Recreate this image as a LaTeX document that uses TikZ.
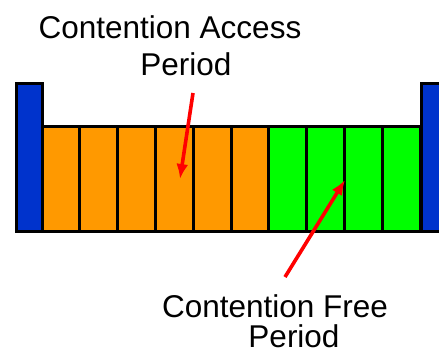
\documentclass[tikz,border=0pt]{standalone}
\usepackage{fontspec}
\setmainfont{Liberation Sans}
\usetikzlibrary{arrows.meta}

\definecolor{orangecap}{RGB}{255,153,0}
\definecolor{vertcfp}{RGB}{0,255,0}
\definecolor{bleubalise}{RGB}{0,51,204}

\begin{document}
\begin{tikzpicture}[x=1pt, y=-1pt]
	\tikzset{case/.style={rectangle, draw=black, line width=3pt, anchor=north west, inner sep=0pt, outer sep=0pt, minimum width=37.8pt, minimum height=105pt},
	balise/.style={case, fill=bleubalise, minimum height=148pt},
	fleche/.style={red, line width=3.6pt, -{Latex[length=15pt, width=12pt]}},
	texte/.style={anchor=base, inner sep=0pt, font=\fontsize{31.5}{38}\selectfont}};

	\useasboundingbox (0,0) rectangle (439,353);
	\clip (0,0) rectangle (439,353);

	% balises aux deux bouts
	\node[balise, minimum width=25.5pt] (b-g) at (16.5,83.5) {};
	\node[balise, minimum width=30pt] (b-d) at (421.5,83.5) {};

	% cases de la periode avec et sans contention
	\foreach \i in {0,...,5}
		\node[case, fill=orangecap] (s-\i) at (42+37.8*\i, 126.5) {};
	\foreach \i in {6,...,9}
		\node[case, fill=vertcfp] (s-\i) at (42+37.8*\i, 126.5) {};

	\node[texte] (cap-a) at (170,39) {Contention Access};
	\node[texte] (cap-b) at (186,76) {Period};
	\node[texte] (cfp-a) at (275,317) {Contention Free};
	\node[texte] (cfp-b) at (294,347) {Period};

	\coordinate (cap-dep) at (193,93);
	\coordinate (cap-arr) at (180,179);
	\coordinate (cfp-dep) at (285,277);
	\coordinate (cfp-arr) at (345,180);

	\draw[fleche] (cap-dep) -- (cap-arr);
	\draw[fleche] (cfp-dep) -- (cfp-arr);

\end{tikzpicture}
\end{document}
